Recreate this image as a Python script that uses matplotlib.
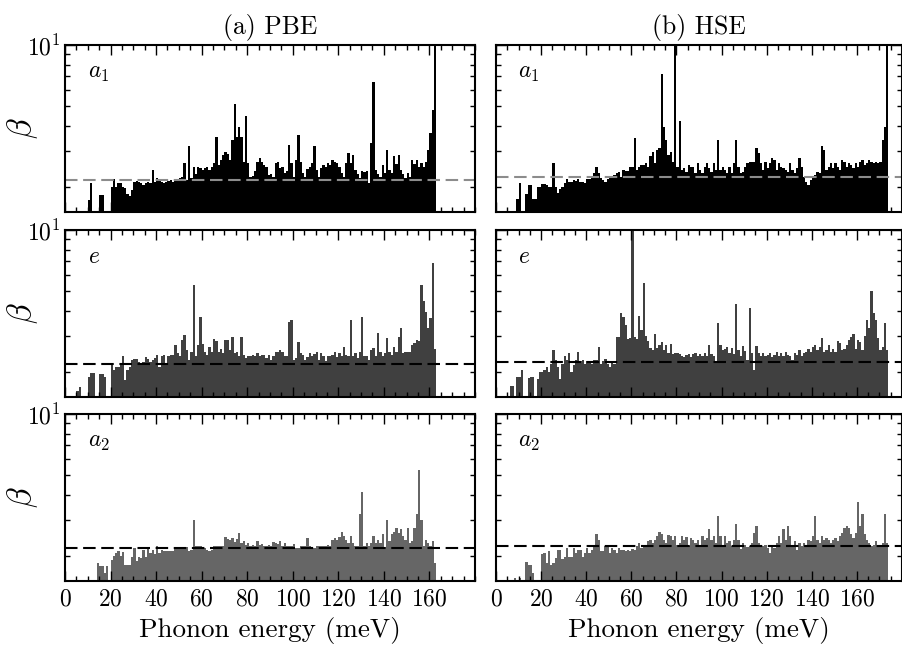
#!/usr/bin/env python
"""Electron-phonon coupling strength beta per phonon energy bin, PBE vs HSE,
split by irreducible representation (a1, e, a2)."""

import matplotlib

matplotlib.use("Agg")
import matplotlib.pyplot as plt
import numpy as np
from matplotlib.ticker import FixedLocator, LogLocator, MultipleLocator, NullFormatter

plt.rcParams.update(
    {
        "font.family": "serif",
        "font.serif": ["cmr10"],
        "mathtext.fontset": "cm",
        "axes.formatter.use_mathtext": True,
        "axes.unicode_minus": False,
    }
)

# --- data: beta per 1 meV bin, first bin given by *_START (meV) -------------
PBE_A1_START = 10
PBE_A1 = [
    1.72, 2.08, 1.0, 1.0, 1.0, 1.82, 1.82, 1.0, 1.0, 1.0,
    2.0, 2.17, 2.0, 2.08, 2.09, 2.0, 1.96, 1.85, 1.79, 1.93,
    2.12, 2.14, 2.1, 2.09, 2.05, 2.08, 2.1, 2.09, 2.42, 2.12,
    2.2, 2.16, 2.12, 2.09, 2.12, 2.14, 2.16, 2.12, 2.14, 2.16,
    2.2, 2.24, 2.61, 2.16, 3.16, 2.2, 2.51, 2.3, 2.51, 2.46,
    2.42, 2.46, 2.51, 2.42, 2.51, 2.61, 3.53, 2.56, 2.71, 2.88,
    2.95, 2.9, 2.71, 3.4, 5.12, 3.53, 3.96, 3.53, 2.66, 4.45,
    2.61, 2.24, 2.26, 2.4, 2.66, 2.77, 2.66, 2.56, 2.51, 2.28,
    2.3, 2.24, 2.61, 2.66, 2.46, 2.51, 2.33, 2.4, 3.22, 2.61,
    2.24, 2.71, 3.58, 2.66, 2.33, 2.24, 2.44, 2.5, 2.61, 3.16,
    2.42, 2.24, 2.46, 2.56, 2.51, 2.61, 2.56, 2.71, 2.66, 2.61,
    2.51, 2.33, 2.24, 2.61, 2.93, 2.61, 2.88, 2.42, 2.3, 2.2,
    2.38, 2.35, 2.38, 2.08, 3.28, 6.6, 2.42, 2.3, 2.24, 2.56,
    2.33, 3.04, 2.42, 2.33, 2.82, 2.6, 2.88, 2.42, 2.3, 2.2,
    2.33, 2.24, 2.71, 2.6, 2.71, 2.51, 2.61, 2.51, 2.66, 3.04,
    3.7, 4.8, 20.0,
]

HSE_A1_START = 9
HSE_A1 = [
    1.74, 2.08, 1.0, 1.0, 1.85, 2.05, 2.05, 1.74, 1.74, 2.0,
    2.0, 2.06, 2.06, 2.05, 2.0, 2.0, 2.62, 2.0, 1.86, 1.95,
    2.0, 2.08, 2.17, 2.12, 2.12, 2.16, 2.14, 2.17, 2.12, 2.1,
    2.08, 2.17, 2.17, 2.24, 2.33, 2.5, 2.33, 2.2, 2.16, 2.12,
    2.17, 2.2, 2.2, 2.28, 2.33, 2.35, 2.24, 2.42, 2.38, 2.4,
    2.51, 2.51, 3.47, 2.42, 2.51, 2.56, 2.56, 2.61, 2.51, 2.82,
    2.98, 2.61, 3.04, 3.1, 7.2, 3.96, 3.4, 2.88, 2.95, 2.66,
    12.0, 2.51, 4.2, 2.42, 2.46, 2.37, 2.56, 2.51, 2.51, 2.33,
    2.61, 2.42, 2.33, 2.51, 2.61, 2.46, 2.37, 2.61, 2.42, 3.38,
    2.42, 2.51, 2.42, 2.33, 2.51, 2.33, 2.61, 3.38, 2.51, 2.33,
    2.37, 2.51, 2.61, 2.66, 2.64, 2.64, 3.12, 2.93, 2.61, 2.42,
    2.64, 2.46, 2.61, 2.77, 2.71, 2.42, 2.61, 2.51, 2.46, 2.42,
    2.37, 2.61, 2.42, 2.33, 2.46, 2.77, 2.51, 2.24, 2.1, 2.05,
    2.16, 2.24, 2.28, 2.37, 2.33, 3.16, 3.04, 2.42, 2.51, 2.61,
    2.46, 2.61, 2.51, 2.42, 2.71, 2.66, 2.51, 2.61, 2.56, 2.46,
    2.61, 2.51, 2.66, 2.71, 2.56, 2.61, 2.71, 2.66, 2.61, 2.66,
    2.61, 2.66, 3.4, 3.96, 20.0,
]

PBE_E_START = 5
PBE_E = [
    1.6, 1.69, 1.0, 1.0, 1.0, 1.89, 1.97, 1.97, 1.0, 1.0,
    1.95, 1.95, 1.89, 1.0, 1.0, 2.19, 2.04, 2.1, 2.1, 2.2,
    2.38, 1.82, 2.04, 2.12, 2.29, 2.3, 2.3, 2.24, 2.19, 2.24,
    2.36, 2.3, 2.24, 2.29, 2.33, 2.42, 2.12, 2.38, 2.42, 2.15,
    2.38, 2.42, 2.42, 2.7, 2.47, 2.38, 2.87, 3.05, 2.56, 2.29,
    2.5, 5.35, 2.38, 2.7, 3.74, 2.75, 2.51, 2.42, 2.66, 2.5,
    2.89, 2.82, 2.51, 2.6, 2.47, 2.86, 2.87, 2.56, 2.96, 2.47,
    2.51, 2.38, 2.96, 2.42, 2.33, 2.38, 2.4, 2.42, 2.38, 2.47,
    2.38, 2.42, 2.42, 2.33, 2.42, 2.29, 2.38, 2.51, 2.49, 2.56,
    2.51, 2.38, 2.4, 3.5, 3.6, 2.29, 2.33, 2.8, 2.47, 2.42,
    2.29, 2.36, 2.47, 2.4, 2.45, 2.51, 2.29, 2.47, 2.38, 2.25,
    2.38, 2.4, 2.42, 2.51, 2.36, 2.47, 2.4, 2.66, 2.42, 2.38,
    3.6, 2.38, 2.47, 2.33, 2.51, 3.74, 2.4, 2.38, 2.29, 2.56,
    2.61, 2.38, 3.12, 2.51, 2.38, 2.47, 2.92, 2.51, 2.42, 2.66,
    2.51, 2.96, 3.3, 2.47, 2.49, 2.51, 2.51, 2.7, 2.76, 2.87,
    2.82, 5.35, 4.45, 3.95, 3.3, 3.7, 6.85, 2.6,
]

HSE_E_START = 6
HSE_E = [
    1.7, 1.7, 1.0, 1.89, 1.89, 2.04, 1.0, 1.0, 1.87, 1.89,
    1.89, 1.0, 1.84, 2.0, 2.0, 2.04, 2.12, 2.0, 2.19, 2.56,
    2.29, 2.1, 1.84, 2.19, 2.38, 2.29, 2.47, 2.0, 2.16, 2.29,
    2.5, 2.26, 2.29, 2.19, 2.26, 2.26, 2.19, 2.29, 2.29, 2.66,
    2.19, 2.26, 2.31, 2.19, 2.12, 2.26, 2.19, 2.95, 2.95, 3.9,
    3.74, 3.4, 2.9, 2.92, 10.5, 2.95, 2.9, 3.78, 3.2, 5.5,
    3.0, 2.84, 2.62, 2.56, 3.08, 2.62, 2.7, 2.8, 2.56, 2.7,
    2.47, 2.74, 2.44, 2.47, 2.47, 2.45, 2.38, 2.35, 2.42, 2.45,
    2.35, 2.45, 2.47, 2.38, 2.45, 2.38, 2.47, 2.38, 2.72, 2.45,
    2.38, 2.2, 3.48, 2.72, 2.56, 2.6, 2.66, 2.47, 2.62, 2.45,
    4.3, 2.56, 2.38, 2.68, 2.52, 2.29, 4.1, 2.47, 2.04, 2.68,
    2.47, 2.38, 2.47, 2.38, 2.42, 2.47, 2.35, 2.42, 2.51, 2.38,
    2.47, 2.38, 2.51, 2.42, 2.38, 2.29, 2.47, 2.42, 2.56, 2.38,
    2.47, 2.51, 2.6, 2.51, 2.66, 2.72, 2.56, 2.66, 2.92, 2.51,
    2.56, 2.7, 2.51, 2.6, 2.51, 2.84, 2.77, 2.56, 2.6, 2.72,
    2.87, 2.95, 3.08, 2.6, 2.87, 2.8, 2.56, 3.0, 3.6, 3.3,
    5.0, 3.9, 3.6, 2.92, 2.56, 2.66, 3.48, 2.56,
]

PBE_A2_START = 14
PBE_A2 = [
    1.85, 1.78, 1.78, 1.64, 1.78, 1.0, 1.9, 2.0, 2.06, 2.1,
    2.0, 2.08, 1.8, 1.8, 1.8, 1.98, 2.18, 1.88, 1.98, 1.95,
    2.14, 1.98, 2.18, 2.06, 2.14, 2.03, 2.24, 2.06, 2.14, 2.1,
    2.1, 2.1, 2.1, 2.1, 2.18, 2.2, 2.18, 2.2, 2.18, 2.2,
    2.1, 2.14, 3.0, 2.22, 2.24, 2.23, 2.18, 2.18, 2.14, 2.1,
    2.14, 2.22, 2.23, 2.23, 2.22, 2.22, 2.46, 2.42, 2.4, 2.44,
    2.33, 2.42, 2.6, 2.31, 2.35, 2.27, 2.31, 2.22, 2.27, 2.22,
    2.37, 2.27, 2.29, 2.22, 2.22, 2.27, 2.22, 2.33, 2.31, 2.29,
    2.35, 2.24, 2.31, 2.22, 2.22, 2.24, 2.29, 2.18, 2.18, 2.22,
    2.24, 2.22, 2.44, 2.22, 2.18, 2.18, 2.24, 2.22, 2.22, 2.24,
    2.22, 2.26, 2.22, 2.4, 2.44, 2.4, 2.46, 2.62, 2.49, 2.4,
    2.31, 2.49, 2.3, 2.24, 2.24, 3.2, 4.1, 2.22, 2.3, 2.22,
    2.31, 2.51, 2.3, 2.4, 2.31, 2.55, 2.2, 3.0, 2.35, 2.55,
    2.62, 2.75, 2.6, 2.7, 2.49, 2.4, 2.75, 2.31, 2.35, 2.75,
    3.2, 5.3, 3.0, 2.22, 2.4, 2.31, 2.22, 2.35, 1.84,
]

HSE_A2_START = 8
HSE_A2 = [
    1.55, 1.0, 1.55, 1.0, 1.0, 1.87, 1.79, 1.79, 1.64, 1.0,
    1.0, 1.0, 2.05, 2.06, 1.84, 2.1, 1.8, 1.85, 1.95, 2.13,
    2.13, 1.93, 1.98, 2.18, 1.98, 1.98, 2.18, 2.06, 2.14, 2.14,
    1.98, 2.06, 2.18, 2.06, 2.14, 2.22, 2.55, 2.39, 2.1, 2.1,
    2.22, 2.22, 2.06, 2.18, 2.14, 2.06, 2.18, 2.14, 2.14, 2.12,
    2.14, 2.1, 2.16, 2.14, 2.22, 2.31, 2.18, 2.22, 2.26, 2.35,
    2.39, 2.31, 2.39, 2.49, 2.63, 2.55, 2.39, 2.31, 2.53, 2.51,
    2.39, 2.51, 2.26, 2.31, 2.49, 2.39, 2.47, 2.22, 2.44, 2.39,
    2.31, 2.39, 2.24, 2.49, 2.4, 2.44, 2.72, 2.39, 2.49, 2.31,
    3.15, 2.49, 2.22, 2.49, 2.31, 2.35, 2.22, 2.39, 2.86, 2.39,
    2.16, 2.31, 2.26, 2.2, 2.22, 2.31, 2.58, 2.79, 2.31, 2.26,
    2.22, 2.26, 2.18, 2.06, 2.22, 2.18, 2.31, 2.49, 2.31, 2.7,
    2.39, 2.79, 2.49, 2.22, 2.35, 2.14, 2.31, 2.22, 2.31, 2.26,
    2.4, 2.35, 2.49, 3.15, 2.4, 2.31, 2.49, 2.4, 2.44, 2.4,
    2.31, 2.4, 2.44, 2.35, 2.49, 2.6, 2.75, 2.79, 2.75, 2.55,
    2.44, 2.6, 3.7, 2.79, 3.2, 2.55, 2.4, 2.31, 2.22, 2.26,
    2.35, 2.26, 2.22, 2.31, 3.2, 2.3,
]

# dashed reference level (mean beta) per panel
PBE_MEANS = [2.16, 2.19, 2.18]
HSE_MEANS = [2.23, 2.24, 2.24]

IRREP_LABELS = ["$a_1$", "$e$", "$a_2$"]
IRREP_COLORS = ["#000000", "#404040", "#666666"]
MEAN_COLORS = ["#8c8c8c", "#000000", "#000000"]
COLUMN_TITLES = ["(a) PBE", "(b) HSE"]

BASE = 1.0
W, H = 903, 651
COL_X = [(65, 410), (496, 406)]  # left px, width px
ROW_Y = [(45, 167), (230, 167), (414, 167)]  # top px, height px


def _draw_panel(ax, start, values, color, mean, mean_color, label):
    energy = start + np.arange(len(values))
    beta = np.asarray(values, dtype=float)
    ax.set_yscale("log")
    ax.bar(energy, beta - BASE, width=1.0, bottom=BASE, align="edge",
           color=color, linewidth=0)
    ax.axhline(mean, color=mean_color, linewidth=1.5, dashes=(6, 2.7))
    ax.set_xlim(0, 180)
    ax.set_ylim(1.5, 10)

    ax.xaxis.set_major_locator(FixedLocator(np.arange(0, 161, 20)))
    ax.xaxis.set_minor_locator(MultipleLocator(5))
    ax.yaxis.set_major_locator(LogLocator(base=10))
    ax.yaxis.set_minor_locator(LogLocator(base=10, subs=np.arange(2, 10)))
    ax.yaxis.set_minor_formatter(NullFormatter())
    ax.tick_params(which="both", direction="in", top=True, right=True,
                   labelsize=17, width=1)
    ax.tick_params(axis="x", which="major", pad=5)
    ax.tick_params(which="major", length=7)
    ax.tick_params(which="minor", length=3.5)
    for sp in ax.spines.values():
        sp.set_linewidth(1.5)

    ax.text(0.055, 0.80, label, transform=ax.transAxes, fontsize=17,
            va="baseline", ha="left")


def main():
    fig = plt.figure(figsize=(W / 100, H / 100), dpi=100)
    columns = [
        ([PBE_A1_START, PBE_E_START, PBE_A2_START], [PBE_A1, PBE_E, PBE_A2], PBE_MEANS),
        ([HSE_A1_START, HSE_E_START, HSE_A2_START], [HSE_A1, HSE_E, HSE_A2], HSE_MEANS),
    ]
    for col, (starts, series, means) in enumerate(columns):
        x0, w = COL_X[col]
        for row in range(3):
            y0, h = ROW_Y[row]
            ax = fig.add_axes([x0 / W, 1 - (y0 + h) / H, w / W, h / H])
            _draw_panel(ax, starts[row], series[row], IRREP_COLORS[row],
                        means[row], MEAN_COLORS[row], IRREP_LABELS[row])
            if row == 0:
                ax.set_title(COLUMN_TITLES[col], fontsize=18.5, pad=8)
            if row < 2:
                ax.tick_params(labelbottom=False)
            else:
                ax.set_xlabel("Phonon energy (meV)", fontsize=19.5, labelpad=5)
            if col == 0:
                ax.set_ylabel(r"$\beta$", fontsize=24)
                ax.yaxis.set_label_coords(-0.062, 0.5)
            else:
                ax.tick_params(labelleft=False)

    fig.savefig("out.png", dpi=100)
    plt.close(fig)


if __name__ == "__main__":
    main()
